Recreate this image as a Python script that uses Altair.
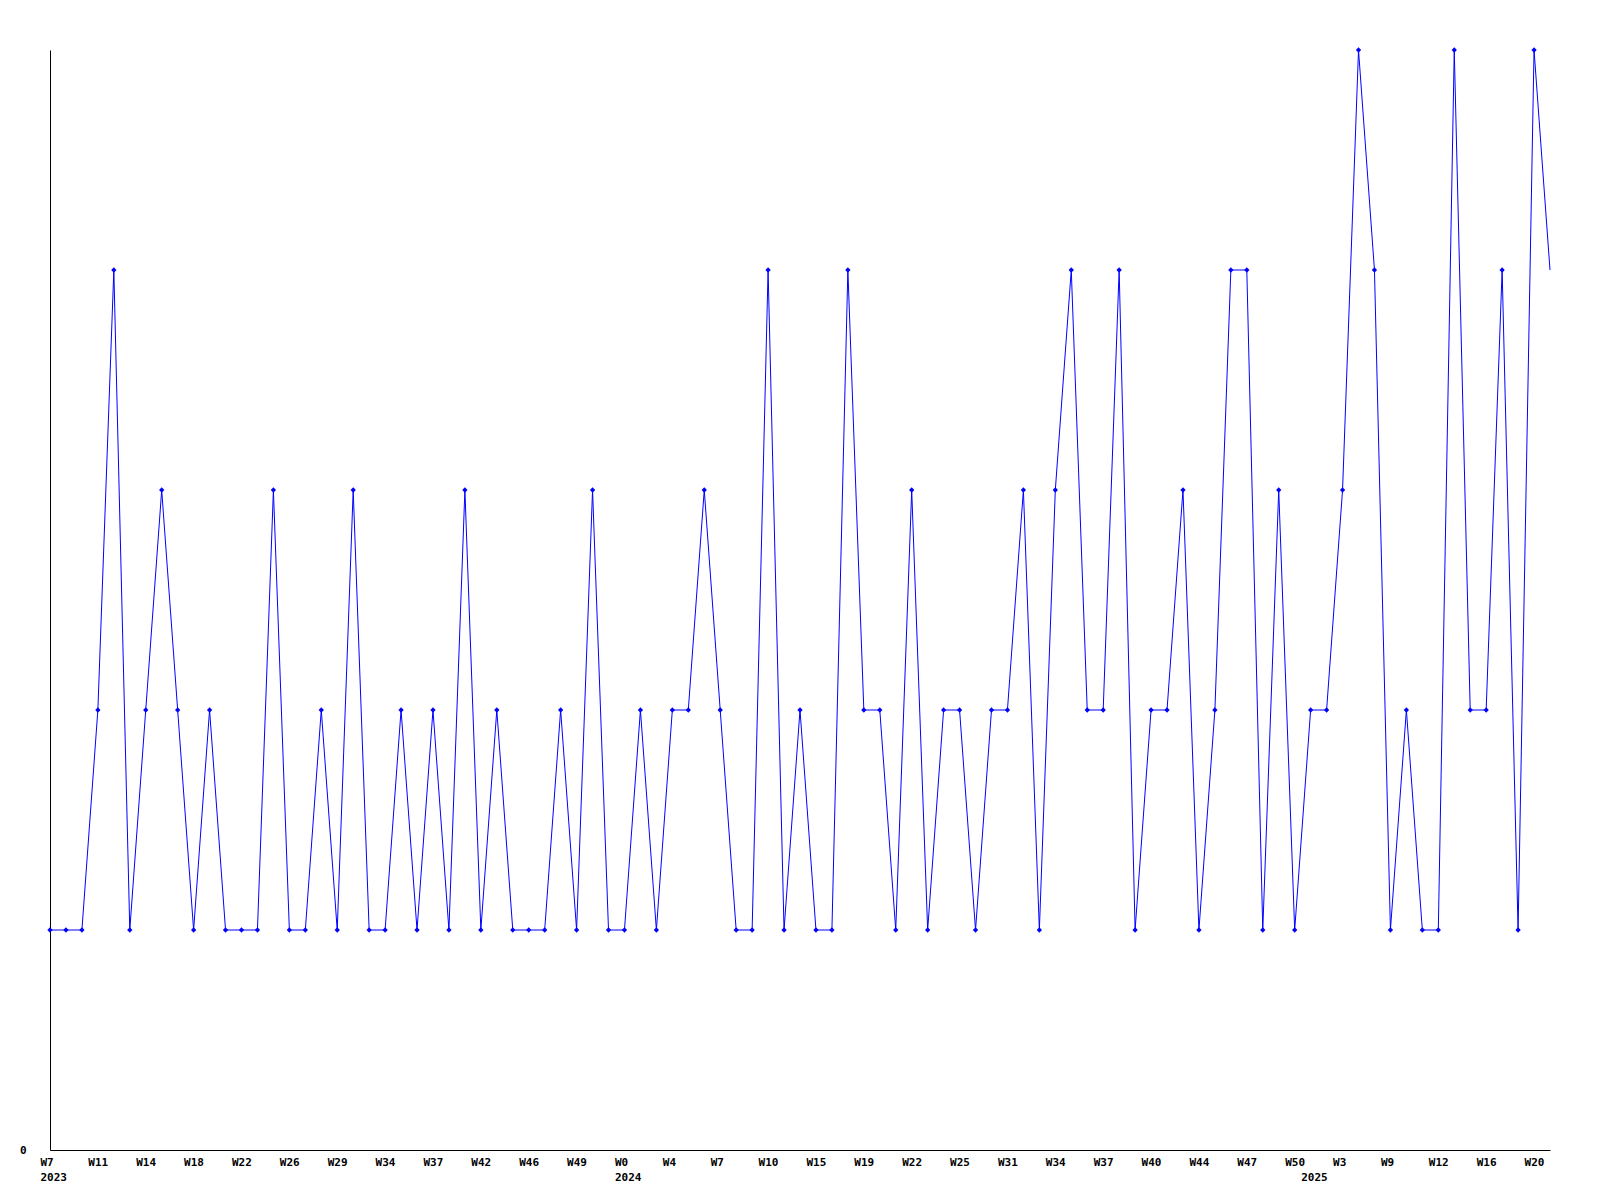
import json
import altair as alt
import pandas as pd

# weekly values (index 0 = 2023 W7)
values = [1, 1, 1, 2, 4, 1, 2, 3, 2, 1, 2, 1, 1, 1, 3, 1, 1, 2, 1, 3,
          1, 1, 2, 1, 2, 1, 3, 1, 2, 1, 1, 1, 2, 1, 3, 1, 1, 2, 1, 2,
          2, 3, 2, 1, 1, 4, 1, 2, 1, 1, 4, 2, 2, 1, 3, 1, 2, 2, 1, 2,
          2, 3, 1, 3, 4, 2, 2, 4, 1, 2, 2, 3, 1, 2, 4, 4, 1, 3, 1, 2,
          2, 3, 5, 4, 1, 2, 1, 1, 5, 2, 2, 4, 1, 5, 4]

week_labels = ["W7", "W11", "W14", "W18", "W22", "W26", "W29", "W34", "W37", "W42",
               "W46", "W49", "W0", "W4", "W7", "W10", "W15", "W19", "W22", "W25",
               "W31", "W34", "W37", "W40", "W44", "W47", "W50", "W3", "W9", "W12",
               "W16", "W20"]
week_label_step = 3
year_labels = ["2023", "2024", "2025"]
year_positions = [0, 36, 79]

n = len(values)
df = pd.DataFrame({"idx": list(range(n)), "value": values,
                   "marker": [i < n - 1 for i in range(n)]})

# build multi-line axis labels
lbl = [["", ""] for _ in range(n)]
tick_vals = set()
for k, w in enumerate(week_labels):
    p = k * week_label_step
    lbl[p][0] = w
    tick_vals.add(p)
for y, p in zip(year_labels, year_positions):
    lbl[p][1] = y
    tick_vals.add(p)
label_expr = json.dumps(lbl) + "[datum.value]"

x_enc = alt.X("idx:Q", scale=alt.Scale(domain=[0, n - 1], nice=False, zero=False),
              axis=alt.Axis(values=sorted(tick_vals), labelExpr=label_expr, ticks=False,
                            grid=False, title=None, labelAlign="left", labelOffset=-10,
                            labelPadding=6, labelLineHeight=15, labelFlush=False,
                            labelOverlap=False, labelBaseline="top",
                            domainColor="black", domainWidth=1))
y_enc = alt.Y("value:Q", scale=alt.Scale(domain=[0, 5], nice=False),
              axis=alt.Axis(values=[0], ticks=False, grid=False, title=None,
                            labelPadding=24, labelBaseline="middle",
                            domainColor="black", domainWidth=1))

base = alt.Chart(df)
line = base.mark_line(color="#0000ff", strokeWidth=1).encode(x=x_enc, y=y_enc)
points = base.transform_filter("datum.marker").mark_point(
    shape="diamond", filled=True, size=28, color="#0000ff", opacity=1
).encode(x=x_enc, y=y_enc)

chart = alt.layer(line, points).properties(
    width=1500, height=1100,
    autosize=alt.AutoSizeParams(type="none"),
    padding={"left": 42, "top": 42, "right": 20, "bottom": 40},
).configure_view(stroke=None).configure_axis(
    labelFont="DejaVu Sans Mono", labelFontSize=11, labelFontWeight="bold",
    labelColor="black"
)

chart.save("out.html", embed_options={"renderer": "svg", "actions": False})
